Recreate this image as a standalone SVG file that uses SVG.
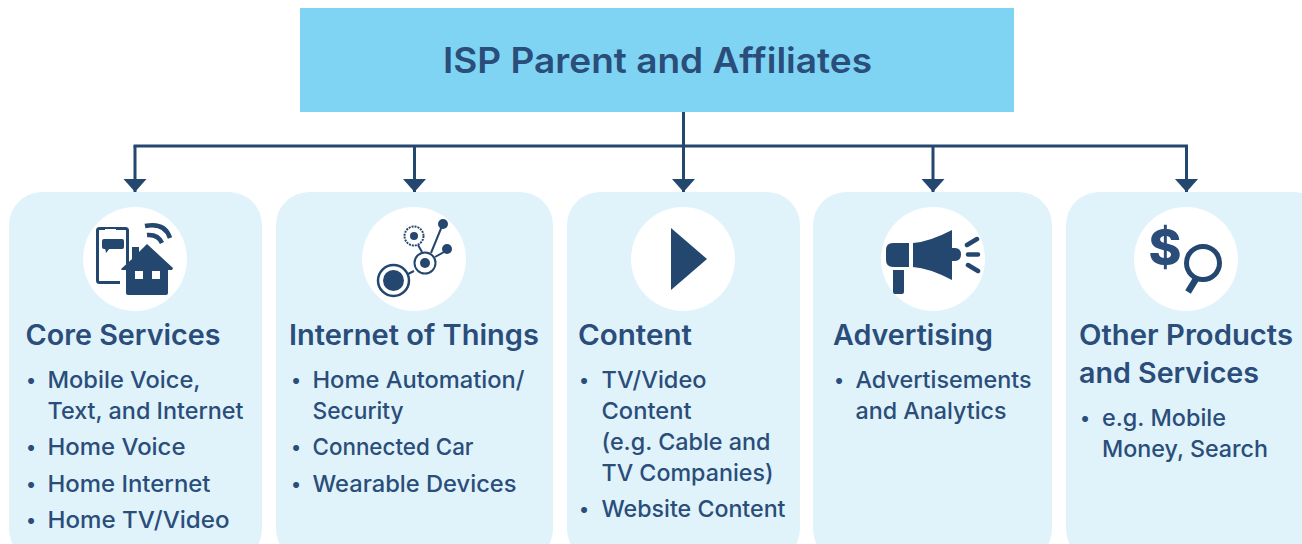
<svg xmlns="http://www.w3.org/2000/svg" width="1302" height="544" viewBox="0 0 1302 544">
<style>
text{font-family:Inter,"Liberation Sans",sans-serif;fill:#2a4d7a}
.t{font-size:35px;font-weight:600}
.h{font-size:28px;font-weight:600}
.b{font-size:23.500px;font-weight:450}
.d{font-size:19px}
.card{fill:#e0f3fa}
.ic{fill:#24476f}
.is{fill:none;stroke:#24476f}
.c{fill:#fff}
.w{fill:none;stroke:#24476f;stroke-width:3}
</style>
<defs><marker id="a" markerUnits="userSpaceOnUse" markerWidth="14" markerHeight="24" refX="13" refY="12" orient="auto" viewBox="0 0 14 24"><path d="M0 0.500L13 12L0 23.500z" fill="#24476f"/></marker></defs>
<g id="root"><rect x="300" y="8" width="714" height="104" fill="#7fd4f3"/><text class="t" x="443" y="73" textLength="429" lengthAdjust="spacingAndGlyphs">ISP Parent and Affiliates</text></g>
<g id="connectors">
<path class="w" d="M683.500 112V146M133.500 146H1188"/>
<path class="w" d="M135 146V192" marker-end="url(#a)"/>
<path class="w" d="M414.500 146V192" marker-end="url(#a)"/>
<path class="w" d="M683.500 146V192" marker-end="url(#a)"/>
<path class="w" d="M933 146V192" marker-end="url(#a)"/>
<path class="w" d="M1186.500 146V192" marker-end="url(#a)"/>
</g>
<g id="core">
<rect class="card" x="9" y="192" width="253" height="370" rx="33"/>
<circle class="c" cx="135" cy="259" r="52"/>
<rect class="is" x="97.500" y="228.500" width="30" height="54" rx="2" stroke-width="3"/>
<rect class="ic" x="102" y="239" width="22" height="10" rx="2"/><path class="ic" d="M105 248h5l-4 5z"/>
<path d="M105 229.500h11" stroke="#fff" stroke-width="1"/>
<path class="c" d="M120 264h10v22h-10z"/>
<path class="ic" d="M121 269l11-10v-12h7v5l8-8 26 24-1 2h-4v23q0 2-2 2h-38q-2 0-2-2v-23h-4z"/>
<rect class="c" x="135" y="271" width="8" height="8"/><rect class="c" x="152" y="271" width="8" height="8"/>
<path class="is" stroke-width="4.500" d="M145 226q20-4 25 12M147 235q11-1 15 8"/>
<text class="h" x="25.500" y="345" textLength="195" lengthAdjust="spacingAndGlyphs">Core Services</text>
<g class="b"><text class="d" x="26" y="387">•</text><text x="47.500" y="388" textLength="153" lengthAdjust="spacingAndGlyphs">Mobile Voice,</text><text x="47.500" y="419" textLength="196" lengthAdjust="spacingAndGlyphs">Text, and Internet</text><text class="d" x="26" y="454">•</text><text x="47.500" y="455" textLength="138" lengthAdjust="spacingAndGlyphs">Home Voice</text><text class="d" x="26" y="491">•</text><text x="47.500" y="492" textLength="163" lengthAdjust="spacingAndGlyphs">Home Internet</text><text class="d" x="26" y="527">•</text><text x="47.500" y="528" textLength="182" lengthAdjust="spacingAndGlyphs">Home TV/Video</text></g>
</g>
<g id="iot">
<rect class="card" x="276" y="192" width="277" height="370" rx="33"/>
<circle class="c" cx="414" cy="259" r="52"/>
<circle class="is" cx="393.500" cy="280.500" r="15.500" stroke-width="2.500"/><circle class="ic" cx="393.500" cy="280.500" r="10.500"/>
<circle class="is" cx="425" cy="263" r="10.500" stroke-width="2"/><circle class="ic" cx="425" cy="263" r="5"/>
<circle class="is" cx="414" cy="236" r="9.500" stroke-width="2" stroke-dasharray="2 1"/><circle class="ic" cx="414" cy="236" r="4"/>
<circle class="ic" cx="443" cy="224" r="5"/><circle class="ic" cx="447" cy="249" r="5"/>
<path class="is" stroke-width="2" d="M418 245l4 7M431 253l11-27M435 257l9-5M414 271l-6 3"/>
<text class="h" x="289" y="345" textLength="250" lengthAdjust="spacingAndGlyphs">Internet of Things</text>
<g class="b"><text class="d" x="291" y="387">•</text><text x="312.500" y="388" textLength="212" lengthAdjust="spacingAndGlyphs">Home Automation/</text><text x="312.500" y="419" textLength="91" lengthAdjust="spacingAndGlyphs">Security</text><text class="d" x="291" y="454">•</text><text x="312.500" y="455" textLength="161" lengthAdjust="spacingAndGlyphs">Connected Car</text><text class="d" x="291" y="491">•</text><text x="312.500" y="492" textLength="204" lengthAdjust="spacingAndGlyphs">Wearable Devices</text></g>
</g>
<g id="content">
<rect class="card" x="567" y="192" width="233" height="370" rx="33"/>
<circle class="c" cx="683" cy="259" r="52"/>
<path class="ic" d="M671 228l36 31-36 31z"/>
<text class="h" x="578" y="345" textLength="114" lengthAdjust="spacingAndGlyphs">Content</text>
<g class="b"><text class="d" x="579" y="387">•</text><text x="601.500" y="388" textLength="105" lengthAdjust="spacingAndGlyphs">TV/Video</text><text x="601.500" y="419" textLength="90" lengthAdjust="spacingAndGlyphs">Content</text><text x="601.500" y="450" textLength="169" lengthAdjust="spacingAndGlyphs">(e.g. Cable and</text><text x="601.500" y="481" textLength="172" lengthAdjust="spacingAndGlyphs">TV Companies)</text><text class="d" x="579" y="516">•</text><text x="601.500" y="517" textLength="184" lengthAdjust="spacingAndGlyphs">Website Content</text></g>
</g>
<g id="advertising">
<rect class="card" x="813" y="192" width="239" height="370" rx="33"/>
<circle class="c" cx="933" cy="259" r="52"/>
<path class="ic" d="M893 243h16v24h-16q-7 0-7-7v-10q0-7 7-7zM893 270h11v22q0 2-2 2h-7q-2 0-2-2zM913 243q16-1 39-13v50q-23-12-39-13z"/>
<path class="ic" d="M952 248h3q6 0 6 6.500t-6 6.500h-3z"/>
<path class="is" stroke-width="4.500" stroke-linecap="round" d="M967 245l10-6M968 254.500h10M968 265l10 6"/>
<text class="h" x="833" y="345" textLength="160" lengthAdjust="spacingAndGlyphs">Advertising</text>
<g class="b"><text class="d" x="834" y="387">•</text><text x="855.500" y="388" textLength="176" lengthAdjust="spacingAndGlyphs">Advertisements</text><text x="855.500" y="419" textLength="151" lengthAdjust="spacingAndGlyphs">and Analytics</text></g>
</g>
<g id="other">
<rect class="card" x="1066" y="192" width="260" height="370" rx="33"/>
<circle class="c" cx="1186" cy="259" r="52"/>
<text x="1165" y="265" font-size="50" font-weight="800" text-anchor="middle">$</text>
<circle class="is" cx="1203" cy="263" r="16.500" stroke-width="5"/>
<path class="is" stroke-width="6.500" d="M1196 279l-8 13"/>
<text class="h" x="1079" y="345" textLength="214" lengthAdjust="spacingAndGlyphs">Other Products</text>
<text class="h" x="1079" y="383" textLength="180" lengthAdjust="spacingAndGlyphs">and Services</text>
<g class="b"><text class="d" x="1080" y="425">•</text><text x="1102" y="425.500" textLength="124" lengthAdjust="spacingAndGlyphs">e.g. Mobile</text><text x="1102" y="456.500" textLength="166" lengthAdjust="spacingAndGlyphs">Money, Search</text></g>
</g>
</svg>
